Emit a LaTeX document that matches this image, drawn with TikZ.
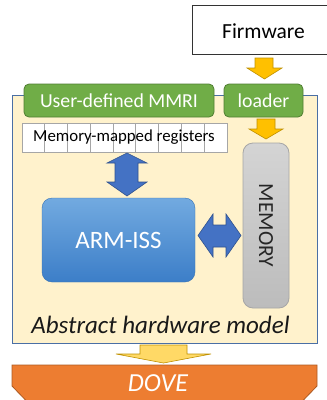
\documentclass[tikz,border=0pt]{standalone}
\usepackage{fontspec}
\setmainfont{Carlito}
\definecolor{frameFill}{HTML}{FFF2CC}
\definecolor{frameLine}{HTML}{4A6FA5}
\definecolor{grn}{HTML}{70AD47}
\definecolor{grnLine}{HTML}{507E32}
\definecolor{blu}{HTML}{4472C4}
\definecolor{bluLine}{HTML}{2F528F}
\definecolor{gold}{HTML}{FFC000}
\definecolor{goldLine}{HTML}{BF9000}
\definecolor{lightgold}{HTML}{FFD966}
\definecolor{orng}{HTML}{ED7D31}
\definecolor{orngLine}{HTML}{AE5A21}
\definecolor{issTop}{HTML}{72AAE0}
\definecolor{issBot}{HTML}{3C7EC8}
\definecolor{memTop}{HTML}{D4D4D4}
\definecolor{memBot}{HTML}{BCBCBC}
\definecolor{memLine}{HTML}{A6A6A6}
\tikzset{
  greenbox/.style={draw=grnLine, fill=grn, line width=0.8pt, rounded corners=5pt, text=white, font=\fontsize{19.8}{22}\selectfont, inner sep=0pt},
  goldarrow/.style={draw=goldLine, fill=gold, line width=0.6pt},
  bluearrow/.style={draw=bluLine, fill=blu, line width=0.6pt},
  regcell/.style={draw=black!35, fill=white, line width=0.8pt},
}
\begin{document}
\begin{tikzpicture}[x=1pt,y=-1pt]
\useasboundingbox (0,0) rectangle (327,400);
\clip (0,0) rectangle (327,400);

% Firmware
\node[draw=black!80, fill=white, line width=0.8pt, minimum width=143pt, minimum height=49pt, inner sep=0pt] (fw) at (263.5,29.5) {};
\node[font=\fontsize{21.5}{24}\selectfont, inner sep=0pt] (fwtext) at (263.5,31) {Firmware};

% arrow firmware -> loader
\draw[goldarrow] (255,58) -- (273,58) -- (273,68) -- (282,68) -- (264.5,79) -- (247,68) -- (255,68) -- cycle;

% Frame
\node[draw=frameLine, fill=frameFill, line width=0.9pt, minimum width=305pt, minimum height=248pt, inner sep=0pt] (frame) at (164.5,219) {};

% green boxes
\node[greenbox, minimum width=190pt, minimum height=33pt] (mmri) at (119,100.5) {User-defined MMRI};
\node[greenbox, minimum width=79pt, minimum height=33pt] (loader) at (263.5,100.5) {loader};

% arrow loader -> memory
\draw[goldarrow] (257,119) -- (275,119) -- (275,129) -- (283,129) -- (266,139) -- (249,129) -- (257,129) -- cycle;

% registers
\foreach \i in {0,...,8} {
  \draw[regcell] ({22+\i*205/9},123) rectangle ({22+(\i+1)*205/9},152);
}
\node[font=\fontsize{16.8}{19}\selectfont, inner sep=0pt] (regs) at (124,137.5) {Memory-mapped registers};

% vertical blue double arrow
\draw[bluearrow] (127,153) -- (147,163) -- (138,163) -- (138,182) -- (147,182) -- (127,196) -- (107,182) -- (115,182) -- (115,163) -- (107,163) -- cycle;

% ARM-ISS
\node[rounded corners=10pt, top color=issTop, bottom color=issBot, draw=issBot!90!black, line width=0.4pt,
  minimum width=153pt, minimum height=84pt, inner sep=0pt, text=white, font=\fontsize{25}{30}\selectfont] (iss) at (118.5,240) {ARM-ISS};

% horizontal blue double arrow
\draw[bluearrow] (198,235.5) -- (213,214) -- (213,225) -- (226,225) -- (226,214) -- (241,235.5) -- (226,257) -- (226,247) -- (213,247) -- (213,257) -- cycle;

% MEMORY
\node[rounded corners=10pt, top color=memTop, bottom color=memBot, draw=memLine, line width=0.8pt,
  minimum width=46pt, minimum height=165pt, inner sep=0pt] (mem) at (266,225.5) {};
\node[rotate=-90, text=black!85, font=\fontsize{21.5}{26}\selectfont, inner sep=0pt] (memtext) at (mem.center) {MEMORY};

% caption
\node[font=\fontsize{25}{29}\selectfont\itshape, text=black!90, inner sep=0pt] (ahm) at (160.5,325) {Abstract hardware model};

% arrow to DOVE
\draw[draw=goldLine, fill=lightgold, line width=0.6pt] (140,345) -- (187,345) -- (187,354) -- (211,354) -- (163.5,363) -- (116,354) -- (140,354) -- cycle;

% DOVE
\draw[draw=orngLine, fill=orng, line width=0.8pt] (12,365) -- (317,365) -- (317,386) -- (303,400.5) -- (26,400.5) -- (12,386) -- cycle;
\node[font=\fontsize{26}{30}\selectfont\itshape, text=white, inner sep=0pt] (dove) at (158,383) {DOVE};
\end{tikzpicture}
\end{document}
